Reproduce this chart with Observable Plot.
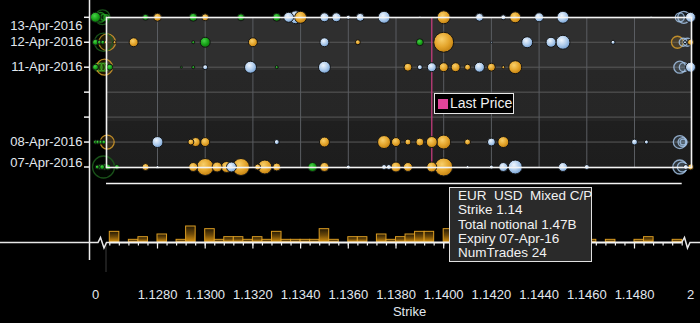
<!DOCTYPE html>
<html><head><meta charset="utf-8">
<script src="https://cdn.jsdelivr.net/npm/d3@7"></script>
<script src="https://cdn.jsdelivr.net/npm/@observablehq/plot@0.6"></script>
<style>
html,body{margin:0;padding:0;background:#000;}
#wrap{position:relative;width:700px;height:323px;overflow:hidden;background:#000;font-family:"Liberation Sans",Arial,sans-serif;}
#wrap svg{position:absolute;left:0;top:0;}
#legend{position:absolute;left:434px;top:93px;width:80px;height:21px;box-sizing:border-box;border:1px solid #e6e6e6;background:#000;color:#f0f0f0;font-size:14px;}
#legend .sw{position:absolute;left:3px;top:5px;width:10px;height:10px;background:#e0449a;}
#legend .lb{position:absolute;left:15px;top:0;line-height:19px;}
#tip{position:absolute;left:449px;top:187px;width:143px;height:75px;box-sizing:border-box;background:#2a2a2a;border:1px solid #e0e0e0;color:#f2f2f2;font-size:13.5px;line-height:14.3px;padding-top:1px;}
#tip div{padding-left:8px;white-space:pre;}
</style></head>
<body><div id="wrap"></div>
<script>
// ---------- data ----------
const axisDays = ["2016-04-07","2016-04-08","2016-04-09","2016-04-10","2016-04-11","2016-04-12","2016-04-13"];
const labelDays = ["2016-04-08","2016-04-11","2016-04-12"];
const topLabelDay = "2016-04-13";
const bottomLabelDay = "2016-04-07";
const strikeTicks = [1.128,1.130,1.132,1.134,1.136,1.138,1.140,1.142,1.144,1.146,1.148];
const edgeTicks = [0, 2];
const lastPrice = 1.1395;

// [strike, notional (USD m), type]  M = mixed C/P (gold), C = call (blue), P = put (green)
const apr07 = [[0.56,73,"P"],[1.015,113,"P"],[1.041,113,"P"],[1.067,163,"P"],[1.104,163,"P"],[1.1263,113,"P"],
 [1.1275,222,"M"],[1.1280,41,"C"],[1.1295,367,"M"],[1.1300,1311,"M"],[1.1305,454,"M"],[1.1309,549,"M"],[1.1311,454,"C"],
 [1.1315,1311,"M"],[1.1322,163,"M"],[1.1325,889,"M"],[1.1330,290,"M"],[1.1345,367,"P"],[1.1350,367,"M"],[1.1360,73,"C"],
 [1.1375,113,"C"],[1.1377,113,"C"],[1.1380,454,"M"],[1.1385,367,"M"],[1.1395,454,"M"],[1.1400,1470,"M"],[1.1410,41,"C"],
 [1.1420,73,"C"],[1.1425,367,"C"],[1.1430,889,"C"],[1.1450,367,"C"],[1.1460,113,"C"],[1.443,113,"C"],[2,163,"M"]];
const apr08 = [[0,73,"P"],[0.77,73,"P"],[1.026,73,"P"],[1.059,73,"P"],
 [1.1280,549,"C"],[1.1294,163,"M"],[1.1296,367,"M"],[1.1300,367,"M"],[1.1330,113,"C"],[1.1350,454,"M"],[1.1375,767,"M"],
 [1.1380,367,"M"],[1.1385,163,"M"],[1.1390,290,"M"],[1.1395,549,"M"],[1.1400,889,"M"],[1.1410,163,"M"],[1.1420,290,"C"],
 [1.1425,549,"M"],[1.1480,163,"C"],[1.1485,73,"C"],[2,10,"P"]];
const apr11 = [[0,163,"P"],[1.126,163,"P"],
 [1.1290,18,"P"],[1.1295,41,"P"],[1.1300,113,"C"],[1.1319,653,"C"],[1.1330,41,"P"],[1.1350,653,"C"],[1.1385,290,"M"],
 [1.1390,113,"C"],[1.1395,367,"C"],[1.1400,367,"M"],[1.1405,367,"M"],[1.1410,163,"M"],[1.1415,454,"C"],[1.1420,290,"M"],
 [1.1425,41,"M"],[1.1430,767,"M"],[2,454,"C"]];
const apr12 = [[0,163,"P"],[1.011,73,"P"],[1.048,73,"P"],[1.081,41,"M"],[1.1262,41,"M"],
 [1.1270,367,"M"],[1.1295,41,"P"],[1.1300,454,"P"],[1.1320,367,"M"],[1.1350,367,"C"],[1.1364,113,"M"],[1.1390,222,"P"],
 [1.1400,1815,"M"],[1.1420,18,"C"],[1.1435,549,"C"],[1.1445,454,"C"],[1.1450,889,"C"],[1.1471,73,"C"],[1.38,41,"C"],[2,163,"M"]];
const apr13 = [[0,454,"P"],
 [1.1275,163,"P"],[1.1280,290,"M"],[1.1295,290,"P"],[1.1300,222,"M"],[1.1315,222,"P"],[1.1330,290,"P"],[1.1335,454,"C"],
 [1.1338,767,"C"],[1.1340,653,"M"],[1.1350,367,"C"],[1.1355,367,"C"],[1.1360,73,"C"],[1.1365,290,"C"],[1.1375,653,"C"],
 [1.1390,18,"C"],[1.1400,767,"M"],[1.1415,290,"C"],[1.1425,113,"C"],[1.1430,549,"M"],[1.1440,367,"C"],[1.1450,653,"C"],
 [1.1487,18,"C"],[2,454,"C"]];

// overlapping out-of-range trades drawn as rings
const rings07 = [[1.056,2200,"D"],[1.1499,889,"C"],[1.16,454,"C"]];
const rings08 = [[1.097,889,"M"],[1.1499,767,"C"],[1.18,367,"C"],[1.22,160,"C"]];
const rings11 = [[0.9,290,"P"],[1.033,290,"P"],[1.07,290,"P"],[1.067,1160,"M"],[1.1499,653,"C"],[1.28,367,"C"]];
const rings12 = [[1.097,1250,"M"],[1.056,1500,"D"],[1.1498,653,"M"],[1.23,290,"C"],[1.6,290,"C"]];
const rings13 = [[1.022,420,"P"],[1.056,160,"P"],[1.089,120,"P"],[1.045,1000,"D"],[1.1499,367,"C"],[1.28,653,"C"]];

// histogram of trade counts per strike bin (bin width 0.0004)
const histBinWidth = 0.0004;
const histStrikes = [1.1260,1.1268,1.1272,1.1280,1.1288,1.1292,1.1300,1.1304,1.1308,1.1312,1.1316,1.1320,1.1324,1.1328,
 1.1332,1.1336,1.1340,1.1344,1.1348,1.1352,1.1360,1.1364,1.1372,1.1376,1.1380,1.1384,1.1388,1.1392,1.1400,
 1.1460,1.1468,1.1480,1.1484,1.1496];
const histCounts = [4,1,2,3,1,6,5,1,2,2,1,2,1,4,1,1,1,1,5,1,2,2,3,1,2,3,4,4,5,1,1,1,2,1];

// ---------- build tables ----------
const parse = s => new Date(s);
const rowsBy = {"2016-04-07":apr07,"2016-04-08":apr08,"2016-04-11":apr11,"2016-04-12":apr12,"2016-04-13":apr13};
const ringsBy = {"2016-04-07":rings07,"2016-04-08":rings08,"2016-04-11":rings11,"2016-04-12":rings12,"2016-04-13":rings13};
const trades = [], rings = [];
for (const [d, rows] of Object.entries(rowsBy)) for (const [strike, notional, type] of rows) trades.push({expiry: parse(d), strike, notional, type});
for (const [d, rows] of Object.entries(ringsBy)) for (const [strike, notional, type] of rows) rings.push({expiry: parse(d), strike, notional, type});
const bins = histStrikes.map((s, i) => ({strike: s, count: histCounts[i]}));
const minorTicks = d3.range(0, 61).map(i => +(1.126 + histBinWidth * i).toFixed(4));

// broken strike axis: 0 … [1.126, 1.150] … 2, expressed as a scale transform
const axisBreak = d3.scaleLinear().domain([0, 1.0, 1.126, 1.150, 1.5, 2]).range([95, 98, 109.3, 681.7, 686, 690]);
const xScale = {type: "linear", transform: axisBreak, domain: [95, 690], range: [95, 690], label: null, axis: null};
const fmtDay = d3.utcFormat("%d-%b-%Y");
const fmtStrike = d => (d === 0 || d === 2) ? String(d) : d.toFixed(4);
const txt = "#e2e8ef";

const ringStyle = {
  P: {fill: "#1fa01f", stroke: "#29b829", so: 0.75},
  M: {fill: "#d9981f", stroke: "#e0a22a", so: 0.8},
  C: {fill: "#9fc3ea", stroke: "#a9c9ee", so: 0.8},
  D: {fill: "#0a2a0a", stroke: "#1c5a1c", so: 0.9}
};
const ringMarks = Object.entries(ringStyle).map(([k, st]) =>
  Plot.dot(rings.filter(d => d.type === k), {x: "strike", y: "expiry", r: "notional",
    fill: st.fill, fillOpacity: 0.14, stroke: st.stroke, strokeOpacity: st.so, strokeWidth: 1.3}));

// ---------- main chart ----------
const svgA = Plot.plot({
  width: 700, height: 323,
  marginLeft: 106, marginRight: 9, marginTop: 17, marginBottom: 156,
  style: {background: "#000", color: txt, fontFamily: "Liberation Sans, Arial, sans-serif", fontSize: "13px"},
  x: xScale,
  y: {type: "utc", domain: [parse("2016-04-07"), parse("2016-04-13")], range: [166.5, 16.8], label: null, axis: null},
  r: {domain: [0, 1470], range: [0, 9]},
  color: {domain: ["M", "C", "P"], range: ["url(#gOr)", "url(#gBl)", "url(#gGr)"]},
  marks: [
    Plot.frame({fill: "url(#gBg)", stroke: "none"}),
    Plot.ruleY(axisDays.slice(1, -1).map(parse), {stroke: "#5a5a5a", strokeWidth: 1}),
    Plot.ruleX(strikeTicks, {stroke: "#5a5d62", strokeWidth: 1}),
    Plot.ruleX([lastPrice], {stroke: "#c23c7c", strokeWidth: 1.3}),
    ...ringMarks,
    Plot.dot(trades, {x: "strike", y: "expiry", r: "notional", fill: "type", stroke: "#141414", strokeWidth: 1}),
    Plot.frame({stroke: "#f4f4f4", strokeWidth: 1.6}),
    Plot.axisY(axisDays.map(parse), {anchor: "left", tickSize: 5, tickFormat: () => "", dx: -17, stroke: "#f0f0f0", strokeWidth: 1.5}),
    Plot.text(labelDays.map(parse), {y: d => d, text: fmtDay, frameAnchor: "left", dx: -24, textAnchor: "end", fontSize: 13, fill: txt}),
    Plot.text([parse(topLabelDay)], {y: d => d, text: fmtDay, frameAnchor: "left", dx: -24, dy: 9, textAnchor: "end", fontSize: 13, fill: txt}),
    Plot.text([parse(bottomLabelDay)], {y: d => d, text: fmtDay, frameAnchor: "left", dx: -24, dy: -4.5, textAnchor: "end", fontSize: 13, fill: txt}),
    Plot.text([...edgeTicks, ...strikeTicks], {x: d => d, text: fmtStrike, frameAnchor: "bottom", dy: 131, fontSize: 13, fill: txt}),
    Plot.text(["Strike"], {text: d => d, frameAnchor: "bottom", dx: 10.5, dy: 148, fontSize: 13, fill: txt})
  ]
});

// ---------- histogram panel ----------
const svgB = Plot.plot({
  width: 700, height: 323,
  marginLeft: 106, marginRight: 19, marginTop: 183, marginBottom: 81,
  style: {background: "transparent", color: "#f0f0f0", fontFamily: "Liberation Sans, Arial, sans-serif", fontSize: "13px", pointerEvents: "none"},
  x: xScale,
  y: {domain: [0, 6], range: [242, 226], label: null, axis: null},
  marks: [
    Plot.rectY(bins, {x1: "strike", x2: d => d.strike + histBinWidth, y: "count", fill: "url(#gBar)", stroke: "#dc9d22", strokeWidth: 1}),
    Plot.ruleY([0], {x1: 1.126, x2: 1.150, stroke: "#f4f4f4", strokeWidth: 2}),
    Plot.axisX(minorTicks, {anchor: "bottom", tickSize: 3.5, tickFormat: () => "", stroke: "#f0f0f0", strokeWidth: 1.2}),
    Plot.axisX(strikeTicks, {anchor: "bottom", tickSize: 6.5, tickFormat: () => "", stroke: "#f0f0f0", strokeWidth: 1.2})
  ]
});

// ---------- gradients ----------
function addDefs(svg, builder) {
  const defs = d3.select(svg).insert("defs", ":first-child");
  builder(defs);
}
function radial(defs, id, stops) {
  const g = defs.append("radialGradient").attr("id", id).attr("cx", "40%").attr("cy", "35%").attr("r", "70%");
  stops.forEach(([o, c]) => g.append("stop").attr("offset", o).attr("stop-color", c));
}
addDefs(svgA, defs => {
  radial(defs, "gOr", [[0, "#f8cf6a"], [0.55, "#e4a52c"], [1, "#bf7d0e"]]);
  radial(defs, "gBl", [[0, "#eef5fd"], [0.55, "#aecbeb"], [1, "#6f9dd2"]]);
  radial(defs, "gGr", [[0, "#48d048"], [0.55, "#18a318"], [1, "#0a6e0a"]]);
  const bg = defs.append("linearGradient").attr("id", "gBg").attr("x1", 0).attr("y1", 0).attr("x2", 0).attr("y2", 1);
  [[0, "#2f2f2f"], [0.35, "#2f2f2f"], [0.35, "#272727"], [0.69, "#262626"], [0.69, "#1f1f1f"], [1, "#1d1d1d"]]
    .forEach(([o, c]) => bg.append("stop").attr("offset", o).attr("stop-color", c));
});
addDefs(svgB, defs => {
  const g = defs.append("linearGradient").attr("id", "gBar").attr("x1", 0).attr("y1", 0).attr("x2", 0).attr("y2", 1);
  [[0, "#241904"], [0.5, "#6e4a08"], [1, "#d8920e"]].forEach(([o, c]) => g.append("stop").attr("offset", o).attr("stop-color", c));
});

// ---------- axis chrome (broken axis, panel divider) ----------
const xl = axisBreak(1.126), xr = axisBreak(1.150);
const chrome = d3.select(svgB).append("g").attr("fill", "none");
chrome.append("line").attr("x1", 89.5).attr("x2", 89.5).attr("y1", 0).attr("y2", 260).attr("stroke", "#ededed").attr("stroke-width", 1.5);
chrome.append("line").attr("x1", 106).attr("x2", xr).attr("y1", 183.5).attr("y2", 183.5).attr("stroke", "#f4f4f4").attr("stroke-width", 1.6);
chrome.append("line").attr("x1", 106).attr("x2", 106).attr("y1", 244).attr("y2", 272).attr("stroke", "#3a3a3a").attr("stroke-width", 1);
chrome.append("path").attr("d", `M0,242.5H98L100.5,237.5L104,248L106.5,242.5H${xl}`).attr("stroke", "#e8e8e8").attr("stroke-width", 1.5);
chrome.append("path").attr("d", `M${xr},242.5L684.5,237.5L687.5,248L690,242.5H700`).attr("stroke", "#e8e8e8").attr("stroke-width", 1.5);

// ---------- assemble ----------
const wrap = document.getElementById("wrap");
wrap.appendChild(svgA);
wrap.appendChild(svgB);
wrap.insertAdjacentHTML("beforeend",
  `<div id="legend"><div class="sw"></div><div class="lb">Last Price</div></div>
   <div id="tip"><div>EUR  USD  Mixed C/P</div><div>Strike 1.14</div><div>Total notional 1.47B</div><div>Expiry 07-Apr-16</div><div>NumTrades 24</div></div>`);
</script></body></html>
